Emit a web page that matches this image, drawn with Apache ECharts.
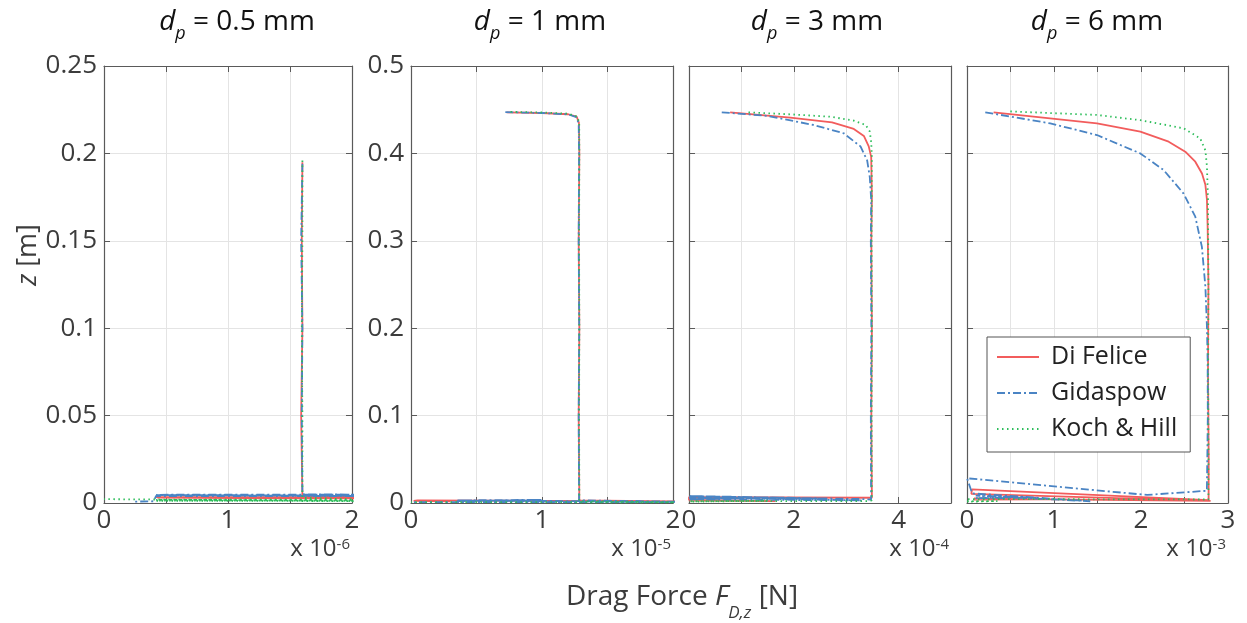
<!DOCTYPE html>
<html><head><meta charset="utf-8">
<script src="https://cdn.jsdelivr.net/npm/echarts@6/dist/echarts.min.js"></script>
<style>html,body{margin:0;padding:0;background:#fff}#c{width:1247px;height:623px}</style>
</head><body><div id="c"></div>
<script>
// ---- data (x in units of the panel's 10^n multiplier, z in m) ----
const particleSizes = ['0.5', '1', '3', '6'];
const exponents = ['-6', '-5', '-4', '-3'];
const xMaxes = [2, 2, 5, 3];
const xSteps = [0.5, 0.5, 1, 0.5];
const yMaxes = [0.25, 0.5, 0.5, 0.5];
const ySteps = [0.05, 0.1, 0.1, 0.1];
const seriesNames = ['Di Felice', 'Gidaspow', 'Koch & Hill'];

// d_p = 0.5 mm  (x 10^-6 N)
const diFelice05 = [[1.60,0.195],[1.595,0.15],[1.60,0.10],[1.59,0.05],[1.60,0.004],[2.05,0.0035],[0.42,0.0034],[2.05,0.0030],[0.43,0.0029],[2.05,0.0026]];
const gidaspow05 = [[1.60,0.194],[1.59,0.15],[1.60,0.10],[1.595,0.05],[1.60,0.005],[2.05,0.0048],[0.42,0.0047],[2.05,0.0043],[0.42,0.0045],[2.05,0.0040],[0.42,0.0040],[0.40,0.0010],[0.25,0.0008]];
const kochHill05 = [[1.60,0.196],[1.60,0.15],[1.595,0.10],[1.60,0.05],[1.60,0.003],[2.05,0.0020],[0.42,0.0018],[2.05,0.0015],[0.42,0.0013],[2.05,0.0011],[0.42,0.0020],[0.0,0.0022]];

// d_p = 1 mm  (x 10^-5 N)
const diFelice1 = [[0.73,0.447],[1.0,0.4462],[1.2,0.4448],[1.265,0.442],[1.282,0.435],[1.285,0.40],[1.28,0.30],[1.285,0.20],[1.28,0.10],[1.285,0.003],[2.05,0.0018],[0.05,0.0030],[0.02,0.0024],[0.30,0.0020]];
const gidaspow1 = [[0.72,0.4472],[1.0,0.4462],[1.2,0.4446],[1.262,0.4415],[1.28,0.434],[1.283,0.40],[1.28,0.30],[1.284,0.20],[1.28,0.10],[1.283,0.003],[2.05,0.0014],[0.35,0.0030],[1.0,0.0036],[0.35,0.0022],[2.05,0.0010],[0.0,0.0010]];
const kochHill1 = [[0.76,0.4475],[1.0,0.4468],[1.2,0.4455],[1.27,0.442],[1.284,0.435],[1.285,0.40],[1.283,0.30],[1.285,0.20],[1.283,0.10],[1.285,0.002],[2.05,0.0008],[0.0,0.0010]];

// d_p = 3 mm  (x 10^-4 N)
const diFelice3 = [[0.785,0.447],[1.933,0.441],[2.73,0.4356],[3.145,0.428],[3.337,0.42],[3.43,0.408],[3.477,0.396],[3.49,0.35],[3.48,0.30],[3.49,0.20],[3.48,0.10],[3.49,0.006],[0.0,0.0066],[0.0,0.0035],[1.65,0.0022],[0.0,0.0028]];
const gidaspow3 = [[0.625,0.447],[1.487,0.443],[2.38,0.4325],[2.953,0.423],[3.273,0.408],[3.40,0.392],[3.45,0.373],[3.477,0.347],[3.47,0.30],[3.48,0.20],[3.47,0.10],[3.475,0.004],[3.3,0.0045],[0.0,0.0080],[2.5,0.0052],[0.0,0.0060],[3.3,0.0030],[0.0,0.0042],[1.0,0.0055]];
const kochHill3 = [[1.135,0.447],[1.933,0.4447],[2.70,0.442],[3.145,0.4375],[3.37,0.4326],[3.45,0.425],[3.477,0.413],[3.49,0.396],[3.485,0.30],[3.49,0.20],[3.485,0.10],[3.49,0.003],[3.4,0.0022],[0.0,0.0020],[1.5,0.0026],[0.0,0.0015]];

// d_p = 6 mm  (x 10^-3 N)
const diFelice6 = [[0.306,0.447],[1.494,0.4344],[1.992,0.4249],[2.318,0.4134],[2.509,0.402],[2.624,0.3905],[2.701,0.377],[2.74,0.364],[2.758,0.347],[2.766,0.316],[2.775,0.25],[2.77,0.15],[2.778,0.05],[2.777,0.0034],[0.057,0.0157],[0.05,0.0105],[2.8,0.0025],[0.08,0.0050],[0.8,0.0042],[0.08,0.0038]];
const gidaspow6 = [[0.21,0.447],[0.957,0.4344],[1.494,0.421],[1.992,0.400],[2.26,0.381],[2.49,0.354],[2.624,0.3276],[2.70,0.293],[2.74,0.2475],[2.758,0.2017],[2.766,0.1636],[2.768,0.10],[2.762,0.05],[2.757,0.014],[2.07,0.0092],[0.0,0.0283],[0.06,0.011],[1.417,0.002],[0.10,0.0085],[0.80,0.0060],[0.10,0.0055],[0.60,0.0070]];
const kochHill6 = [[0.498,0.448],[1.494,0.444],[1.992,0.438],[2.49,0.4287],[2.68,0.4172],[2.74,0.4035],[2.758,0.385],[2.77,0.347],[2.775,0.25],[2.772,0.15],[2.776,0.05],[2.775,0.004],[0.0,0.0045],[0.0,0.0020],[0.35,0.0022],[0.0,0.0015]];

const panelData = [
  [diFelice05, gidaspow05, kochHill05],
  [diFelice1, gidaspow1, kochHill1],
  [diFelice3, gidaspow3, kochHill3],
  [diFelice6, gidaspow6, kochHill6]
];

// ---- styling / layout ----
const FONT = 'Open Sans';
const gridBoxes = [
  {left: 104, width: 248},
  {left: 411, width: 262},
  {left: 689, width: 262},
  {left: 967, width: 261}
];
const titleCenters = [237, 540, 817, 1097];
const lineColors = ['#f25c5c', '#4a84c4', '#2dbd5a'];
const lineDash = ['solid', [8, 3, 2, 3], [1.5, 3.5]];
const axisColor = '#5a5a5a';
const textColor = '#3c3c3c';

const grids = gridBoxes.map(g => ({left: g.left, width: g.width, top: 66, height: 437, containLabel: false}));
const xAxes = [], yAxes = [];
function fmtNum(v){ return String(+v.toFixed(3)); }
for (let i = 0; i < 4; i++) {
  xAxes.push({
    type: 'value', gridIndex: i, min: 0, max: xMaxes[i], interval: xSteps[i], position: 'bottom',
    axisLine: {show: true, onZero: false, lineStyle: {color: axisColor, width: 1.2}},
    axisTick: {show: true, inside: true, length: 6, lineStyle: {color: axisColor}},
    splitLine: {show: true, lineStyle: {color: '#e4e4e4', width: 1}},
    axisLabel: {show: true, showMinLabel: true, showMaxLabel: true, margin: 5, color: textColor, fontFamily: FONT, fontSize: 26,
      formatter: v => {
        if (i === 2) return (Math.abs(v % 2) < 1e-9) ? fmtNum(v) : '';
        return (Math.abs(v - Math.round(v)) < 1e-9) ? fmtNum(v) : '';
      }}
  });
  yAxes.push({
    type: 'value', gridIndex: i, min: 0, max: yMaxes[i], interval: ySteps[i], position: 'left',
    axisLine: {show: true, onZero: false, lineStyle: {color: axisColor, width: 1.2}},
    axisTick: {show: true, inside: true, length: 6, lineStyle: {color: axisColor}},
    splitLine: {show: true, lineStyle: {color: '#e4e4e4', width: 1}},
    axisLabel: {show: i < 2, showMinLabel: true, showMaxLabel: true, margin: 7, color: textColor, fontFamily: FONT, fontSize: 26,
      formatter: v => fmtNum(v)}
  });
}
for (let i = 0; i < 4; i++) {
  xAxes.push({
    type: 'value', gridIndex: i, min: 0, max: xMaxes[i], interval: xSteps[i], position: 'top',
    axisLine: {show: true, onZero: false, lineStyle: {color: axisColor, width: 1.2}},
    axisTick: {show: true, inside: true, length: 6, lineStyle: {color: axisColor}},
    splitLine: {show: false}, axisLabel: {show: false}
  });
  yAxes.push({
    type: 'value', gridIndex: i, min: 0, max: yMaxes[i], interval: ySteps[i], position: 'right',
    axisLine: {show: true, onZero: false, lineStyle: {color: axisColor, width: 1.2}},
    axisTick: {show: true, inside: true, length: 6, lineStyle: {color: axisColor}},
    splitLine: {show: false}, axisLabel: {show: false}
  });
}

const series = [];
for (let i = 0; i < 4; i++) {
  for (let k = 0; k < 3; k++) {
    series.push({
      type: 'line', name: seriesNames[k], xAxisIndex: i, yAxisIndex: i,
      data: panelData[i][k], symbol: 'none', showSymbol: false, clip: true, animation: false,
      lineStyle: {color: lineColors[k], width: 1.8, type: lineDash[k]},
      itemStyle: {color: lineColors[k]}, z: 3 + k
    });
  }
}

const graphics = [];
for (let i = 0; i < 4; i++) {
  graphics.push({
    type: 'text', x: titleCenters[i], y: 22,
    style: {
      text: '{d|d}{p|p}{t| = ' + particleSizes[i] + ' mm}',
      align: 'center', verticalAlign: 'middle',
      rich: {
        d: {fontFamily: FONT, fontStyle: 'italic', fontSize: 28, fill: '#111', lineHeight: 28, verticalAlign: 'middle'},
        p: {fontFamily: FONT, fontStyle: 'italic', fontSize: 18, fill: '#111', lineHeight: 42, verticalAlign: 'bottom'},
        t: {fontFamily: FONT, fontSize: 28, fill: '#111', lineHeight: 28, verticalAlign: 'middle'}
      }
    }
  });
  const right = gridBoxes[i].left + gridBoxes[i].width - 2;
  graphics.push({
    type: 'text', x: right, y: 549,
    style: {
      text: '{a|x 10}{s|' + exponents[i] + '}',
      align: 'right', verticalAlign: 'middle',
      rich: {
        a: {fontFamily: FONT, fontSize: 24, fill: textColor, lineHeight: 24, verticalAlign: 'middle'},
        s: {fontFamily: FONT, fontSize: 15, fill: textColor, lineHeight: 24, verticalAlign: 'top'}
      }
    }
  });
}
// y-axis label
graphics.push({
  type: 'text', x: 28, y: 255, rotation: Math.PI / 2,
  style: {
    text: '{z|z}{n| [m]}', align: 'center', verticalAlign: 'middle',
    rich: {
      z: {fontFamily: FONT, fontStyle: 'italic', fontSize: 27, fill: textColor},
      n: {fontFamily: FONT, fontSize: 27, fill: textColor}
    }
  }
});
// x-axis label
graphics.push({
  type: 'text', x: 682, y: 597,
  style: {
    text: '{a|Drag Force }{f|F}{s|D,z}{a| [N]}', align: 'center', verticalAlign: 'middle',
    rich: {
      a: {fontFamily: FONT, fontSize: 28, fill: textColor, lineHeight: 28, verticalAlign: 'middle'},
      f: {fontFamily: FONT, fontStyle: 'italic', fontSize: 28, fill: textColor, lineHeight: 28, verticalAlign: 'middle'},
      s: {fontFamily: FONT, fontStyle: 'italic', fontSize: 17, fill: textColor, lineHeight: 50, verticalAlign: 'bottom'}
    }
  }
});

const chart = echarts.init(document.getElementById('c'), null, {renderer: 'canvas'});
chart.setOption({
  animation: false,
  backgroundColor: '#ffffff',
  grid: grids,
  xAxis: xAxes,
  yAxis: yAxes,
  legend: {
    data: seriesNames, orient: 'vertical', left: 987, top: 337,
    itemWidth: 42, itemHeight: 14, itemGap: 6,
    padding: [5, 13, 8, 9],
    itemStyle: {color: 'rgba(0,0,0,0)', borderWidth: 0, opacity: 0},
    backgroundColor: '#ffffff', borderColor: '#555', borderWidth: 1,
    textStyle: {fontFamily: FONT, fontSize: 25, color: '#222', lineHeight: 30, padding: [0, 0, 0, 7]},
    selectedMode: false
  },
  series: series,
  graphic: graphics
});
</script></body></html>
